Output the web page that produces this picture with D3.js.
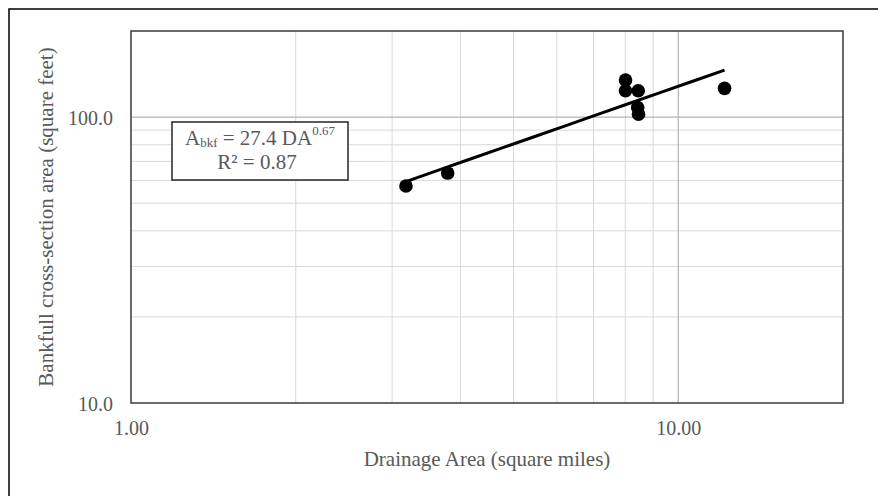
<!DOCTYPE html>
<html>
<head>
<meta charset="utf-8">
<script src="https://cdn.jsdelivr.net/npm/d3@7"></script>
<style>
  html, body { margin: 0; padding: 0; background: #fff; }
  svg { display: block; }
  text { font-family: "Liberation Serif", "DejaVu Serif", serif; fill: #595959; }
</style>
</head>
<body>
<svg id="chart" width="878" height="496"></svg>
<script>
// Drainage area (sq mi) and bankfull cross-section area (sq ft) for each surveyed reach
const drainageArea = [3.18, 3.79, 8.01, 8.01, 8.45, 8.43, 8.46, 12.15];
const bankfullArea = [57.4, 63.7, 134.7, 123.6, 123.6, 108.0, 102.4, 126.0];

// Power-law fit: A = a * DA^b
const fitCoef = 27.4;
const fitExp = 0.67;
const fitR2 = 0.87;

const xTickValues = [1, 10];
const yTickValues = [10, 100];
const xMinorGrid = [2, 3, 4, 5, 6, 7, 8, 9];
const yMinorGrid = [20, 30, 40, 50, 60, 70, 80, 90];

const xTitle = "Drainage Area (square miles)";
const yTitle = "Bankfull cross-section area (square feet)";

const W = 878, H = 496;
const plot = { left: 131, top: 31, right: 843, bottom: 403 };

const svg = d3.select("#chart");

// outer frame (top and left edges visible inside the window)
svg.append("rect")
  .attr("x", 9).attr("y", 9)
  .attr("width", W + 10).attr("height", H + 10)
  .attr("fill", "#fff").attr("stroke", "#000").attr("stroke-width", 1.5);

const x = d3.scaleLog().domain([1, 20]).range([plot.left, plot.right]);
const y = d3.scaleLog().domain([10, 200]).range([plot.bottom, plot.top]);

const grid = svg.append("g");
grid.selectAll("line.xminor").data(xMinorGrid).join("line")
  .attr("x1", d => x(d)).attr("x2", d => x(d))
  .attr("y1", plot.top).attr("y2", plot.bottom)
  .attr("stroke", "#d9d9d9").attr("stroke-width", 1);
grid.selectAll("line.yminor").data(yMinorGrid).join("line")
  .attr("y1", d => y(d)).attr("y2", d => y(d))
  .attr("x1", plot.left).attr("x2", plot.right)
  .attr("stroke", "#d9d9d9").attr("stroke-width", 1);
grid.selectAll("line.xmajor").data(xTickValues.slice(1)).join("line")
  .attr("x1", d => x(d)).attr("x2", d => x(d))
  .attr("y1", plot.top).attr("y2", plot.bottom)
  .attr("stroke", "#b3b3b3").attr("stroke-width", 1.2);
grid.selectAll("line.ymajor").data(yTickValues.slice(1)).join("line")
  .attr("y1", d => y(d)).attr("y2", d => y(d))
  .attr("x1", plot.left).attr("x2", plot.right)
  .attr("stroke", "#b3b3b3").attr("stroke-width", 1.2);

// plot area border
svg.append("rect")
  .attr("x", plot.left).attr("y", plot.top)
  .attr("width", plot.right - plot.left).attr("height", plot.bottom - plot.top)
  .attr("fill", "none").attr("stroke", "#3a3a3a").attr("stroke-width", 1.5);

// axes (labels only)
const fontSize = 20;
const xAxis = d3.axisBottom(x).tickValues(xTickValues).tickFormat(d3.format(".2f")).tickSize(0).tickPadding(0);
const gx = svg.append("g").attr("transform", `translate(0,${plot.bottom})`).call(xAxis);
gx.select(".domain").remove();
gx.selectAll("text").attr("dy", null).attr("y", 32)
  .style("font-size", fontSize + "px").style("font-family", null).attr("fill", "#595959");

const yAxis = d3.axisLeft(y).tickValues(yTickValues).tickFormat(d3.format(".1f")).tickSize(0).tickPadding(0);
const gy = svg.append("g").attr("transform", `translate(${plot.left},0)`).call(yAxis);
gy.select(".domain").remove();
gy.selectAll("text").attr("x", -18).attr("dy", "0.35em")
  .style("font-size", fontSize + "px").style("font-family", null).attr("fill", "#595959");

// axis titles
svg.append("text")
  .attr("x", (plot.left + plot.right) / 2).attr("y", 466)
  .attr("text-anchor", "middle").style("font-size", "21px")
  .text(xTitle);
svg.append("text")
  .attr("transform", `translate(53,${(plot.top + plot.bottom) / 2}) rotate(-90)`)
  .attr("text-anchor", "middle").style("font-size", "21px")
  .text(yTitle);

// fitted trend line across the observed range
const xExtent = d3.extent(drainageArea);
const fitPts = d3.range(0, 11).map(i => {
  const lx = Math.log10(xExtent[0]) + i / 10 * (Math.log10(xExtent[1]) - Math.log10(xExtent[0]));
  const dx = Math.pow(10, lx);
  return [dx, fitCoef * Math.pow(dx, fitExp)];
});
svg.append("path")
  .datum(fitPts)
  .attr("d", d3.line().x(d => x(d[0])).y(d => y(d[1])))
  .attr("fill", "none").attr("stroke", "#000").attr("stroke-width", 3);

// observations
svg.append("g").selectAll("circle")
  .data(drainageArea.map((d, i) => [d, bankfullArea[i]]))
  .join("circle")
  .attr("cx", d => x(d[0])).attr("cy", d => y(d[1]))
  .attr("r", 6.8).attr("fill", "#000");

// equation box
const eqSize = 21;
const eq = svg.append("g");
eq.append("rect")
  .attr("x", 172).attr("y", 122).attr("width", 176).attr("height", 58)
  .attr("fill", "#fff").attr("stroke", "#262626").attr("stroke-width", 1.5);
const l1 = eq.append("text").attr("x", 260).attr("y", 145)
  .attr("text-anchor", "middle").style("font-size", eqSize + "px");
l1.append("tspan").text("A");
l1.append("tspan").attr("dy", 2).style("font-size", "13px").text("bkf");
l1.append("tspan").attr("dy", -2).text(` = ${fitCoef} DA`);
l1.append("tspan").attr("dy", -10).style("font-size", "13px").text(fitExp.toFixed(2));
eq.append("text").attr("x", 257).attr("y", 169)
  .attr("text-anchor", "middle").style("font-size", eqSize + "px")
  .text(`R² = ${fitR2}`);
</script>
</body>
</html>
